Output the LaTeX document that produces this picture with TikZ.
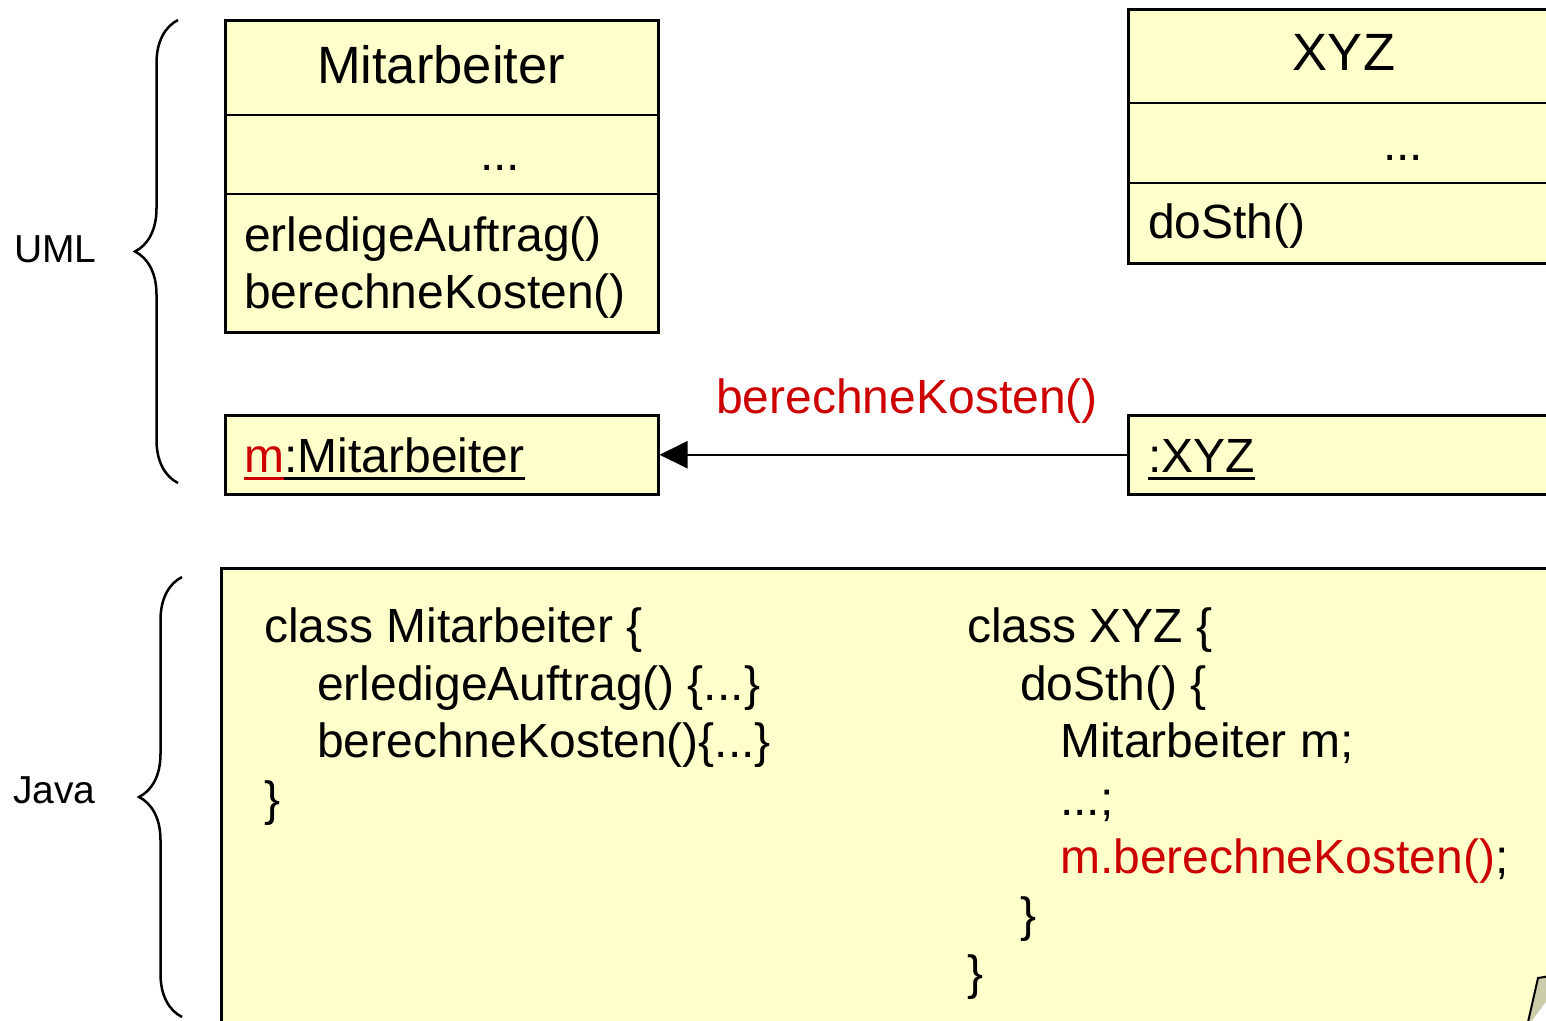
\documentclass[tikz,border=0pt]{standalone}
\usepackage{fontspec}
\setmainfont{Liberation Sans}
\usetikzlibrary{arrows.meta,decorations.pathreplacing}
\definecolor{notefill}{RGB}{255,255,204}
\definecolor{msgred}{RGB}{204,0,0}
\definecolor{foldgray}{RGB}{204,204,170}

\begin{document}
\begin{tikzpicture}[x=1pt,y=-1pt,
  title/.style={font=\fontsize{52.5}{62}\selectfont, inner sep=0pt, anchor=base},
  txt/.style={font=\fontsize{48}{57.6}\selectfont, inner sep=0pt, anchor=base west},
  side/.style={font=\fontsize{39}{47}\selectfont, inner sep=0pt, anchor=base west},
  umlbox/.style={draw, line width=2.5pt, fill=notefill, anchor=north west, inner sep=0pt},
  sep/.style={line width=2.5pt},
  bracket/.style={decorate, decoration={brace, amplitude=43pt, aspect=0.5}, line width=2.5pt},
  msg/.style={line width=2pt, -{Triangle[length=28pt,width=27pt]}},
  uline/.style={line width=3pt},
]
\useasboundingbox (0,0) rectangle (1546,1020);
\clip (0,0) rectangle (1546,1020);

% side labels and braces
\node[side] (umllab) at (14,262) {UML};
\node[side] (javalab) at (13,803) {Java};
\coordinate (umlbot) at (178,483);
\coordinate (umltop) at (178,20);
\coordinate (javabot) at (182,1017);
\coordinate (javatop) at (182,577);
\draw[bracket] (umlbot) -- (umltop);
\draw[bracket] (javabot) -- (javatop);

% class Mitarbeiter
\node[umlbox, minimum width=433pt, minimum height=312pt] (mcls) at (224,19) {};
\draw[sep] (mcls.west |- 0,115) -- (mcls.east |- 0,115);
\draw[sep] (mcls.west |- 0,194) -- (mcls.east |- 0,194);
\node[title] (mtitle) at (441,83) {Mitarbeiter};
\node[txt, anchor=base] (mattr) at (500,170) {...};
\node[txt] (mop1) at (244,251) {erledigeAuftrag()};
\node[txt] (mop2) at (244,308) {berechneKosten()};

% class XYZ
\node[umlbox, minimum width=460pt, minimum height=254pt] (xcls) at (1127,8) {};
\draw[sep] (xcls.west |- 0,103) -- (xcls.east |- 0,103);
\draw[sep] (xcls.west |- 0,183) -- (xcls.east |- 0,183);
\node[title] (xtitle) at (1344,70) {XYZ};
\node[txt, anchor=base] (xattr) at (1403,160) {...};
\node[txt] (xop) at (1148,238) {doSth()};

% objects
\node[umlbox, minimum width=433pt, minimum height=79pt] (mobj) at (224,414) {};
\node[umlbox, minimum width=460pt, minimum height=79pt] (xobj) at (1127,414) {};
\node[txt, text=msgred] (mname) at (244,472) {m};
\node[txt] (mtype) at (mname.base east) {:Mitarbeiter};
\draw[uline, msgred] ([yshift=-6pt]mname.base west) -- ([yshift=-6pt]mname.base east);
\draw[uline] ([yshift=-6pt]mtype.base west) -- ([yshift=-6pt]mtype.base east);
\node[txt] (xname) at (1148,472) {:XYZ};
\draw[uline] ([yshift=-6pt]xname.base west) -- ([yshift=-6pt]xname.base east);

% message
\draw[msg] (xobj.west) -- (mobj.east);
\node[txt, text=msgred, anchor=base] (msglab) at (907,413) {berechneKosten()};

% Java code note
\node[umlbox, minimum width=1400pt, minimum height=500pt] (code) at (220,567) {};
\node[txt] (c1) at (264,642) {class Mitarbeiter \{};
\node[txt] (c2) at (317,700) {erledigeAuftrag() \{...\}};
\node[txt] (c3) at (317,757) {berechneKosten()\{...\}};
\node[txt] (c4) at (264,815) {\}};
\node[txt] (d1) at (967,642) {class XYZ \{};
\node[txt] (d2) at (1020,700) {doSth() \{};
\node[txt] (d3) at (1060,757) {Mitarbeiter m;};
\node[txt] (d4) at (1060,815) {...;};
\node[txt] (d5) at (1060,873) {\textcolor{msgred}{m.berechneKosten()};};
\node[txt] (d6) at (1020,931) {\}};
\node[txt] (d7) at (967,989) {\}};

% folded corner of the note
\fill[white] (1531,1022) -- (1550,996) -- (1550,1022) -- cycle;
\fill[foldgray] (1528,1022) -- (1538,978) -- (1550,976) -- (1550,996) -- (1531,1022) -- cycle;
\draw[line width=2pt] (1528,1022) -- (1538,978) -- (1550,976);
\end{tikzpicture}
\end{document}
